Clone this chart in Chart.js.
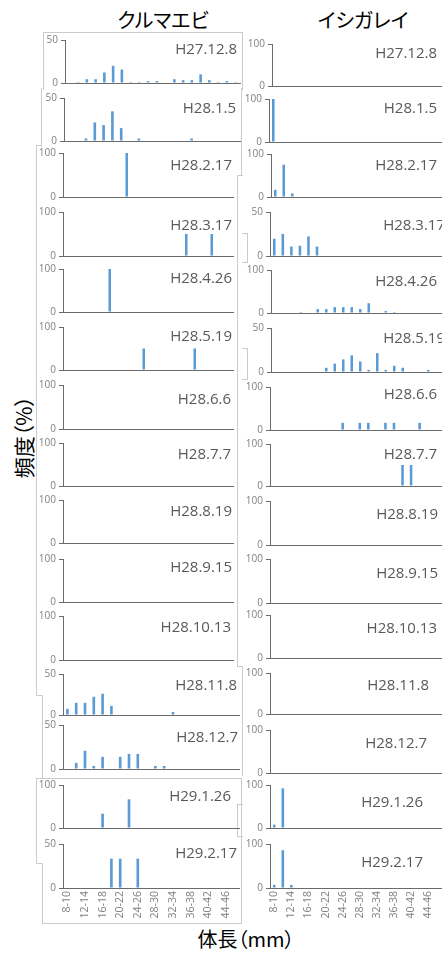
<!DOCTYPE html>
<html lang="ja">
<head>
<meta charset="utf-8">
<title>クルマエビ・イシガレイ 体長組成</title>
<script src="https://cdn.jsdelivr.net/npm/chart.js@4.4.1/dist/chart.umd.min.js"></script>
<style>
  html, body { margin: 0; padding: 0; background: #fff; }
  body { position: relative; width: 442px; height: 953px; overflow: hidden; font-family: "Noto Sans CJK JP", sans-serif; }
  canvas { position: absolute; }
  .line { position: absolute; background: #cbcbcb; }
  .txt { position: absolute; line-height: 1; white-space: nowrap; color: #000; font-feature-settings: "palt"; }
</style>
</head>
<body>
<div class="txt" style="left:163px; top:10px; font-size:20px; transform:translateX(-50%);">クルマエビ</div>
<div class="txt" style="left:363px; top:10px; font-size:20px; transform:translateX(-50%);">イシガレイ</div>
<div class="txt" style="left:23px; top:437px; font-size:21px; transform:translate(-50%,-50%) rotate(-90deg);">頻度（%）</div>
<div class="txt" style="left:246px; top:929px; font-size:20px; transform:translateX(-50%);">体長（mm）</div>
<script>
// size classes (mm), every other one is labelled on the bottom axis
const sizeClasses = ['8-10','10-12','12-14','14-16','16-18','18-20','20-22','22-24','24-26','26-28',
                     '28-30','30-32','32-34','34-36','36-38','38-40','40-42','42-44','44-46','46-48'];

const dates = ['H27.12.8','H28.1.5','H28.2.17','H28.3.17','H28.4.26','H28.5.19','H28.6.6','H28.7.7',
               'H28.8.19','H28.9.15','H28.10.13','H28.11.8','H28.12.7','H29.1.26','H29.2.17'];

// y axis top value per survey
const kurumaMax = [50,50,100,100,100,100,100,100,100,100,100,50,50,100,50];
const ishiMax   = [100,100,100,50,100,50,100,100,100,100,100,100,100,100,100];

// frequency (%) per size class, クルマエビ
const kuruma = [
  [0,1.1,4.4,4.4,12.2,20,15.6,1.1,1.1,2.2,2.2,0,4.4,3.3,3.3,10,3.3,1.1,2.2,1.1],
  [0,0,2.9,21.5,18.5,34.5,15,0,2.9,0,0,0,0,0,2.9,0,0,0,0,0],
  [0,0,0,0,0,0,0,100,0,0,0,0,0,0,0,0,0,0,0,0],
  [0,0,0,0,0,0,0,0,0,0,0,0,0,0,50,0,0,50,0,0],
  [0,0,0,0,0,100,0,0,0,0,0,0,0,0,0,0,0,0,0,0],
  [0,0,0,0,0,0,0,0,0,50,0,0,0,0,0,50,0,0,0,0],
  [0,0,0,0,0,0,0,0,0,0,0,0,0,0,0,0,0,0,0,0],
  [0,0,0,0,0,0,0,0,0,0,0,0,0,0,0,0,0,0,0,0],
  [0,0,0,0,0,0,0,0,0,0,0,0,0,0,0,0,0,0,0,0],
  [0,0,0,0,0,0,0,0,0,0,0,0,0,0,0,0,0,0,0,0],
  [0,0,0,0,0,0,0,0,0,0,0,0,0,0,0,0,0,0,0,0],
  [7.4,14.8,14.8,22.2,25.9,11.1,0,0,0,0,0,0,3.7,0,0,0,0,0,0,0],
  [0,6.9,20.7,3.4,13.8,0,13.8,17.2,17.2,0,3.4,3.4,0,0,0,0,0,0,0,0],
  [0,0,0,0,33.3,0,0,66.7,0,0,0,0,0,0,0,0,0,0,0,0],
  [0,0,0,0,0,33.3,33.3,0,33.3,0,0,0,0,0,0,0,0,0,0,0]
];

// frequency (%) per size class, イシガレイ
const ishigarei = [
  [0,0,0,0,0,0,0,0,0,0,0,0,0,0,0,0,0,0,0,0],
  [100,0,0,0,0,0,0,0,0,0,0,0,0,0,0,0,0,0,0,0],
  [16.7,75,8.3,0,0,0,0,0,0,0,0,0,0,0,0,0,0,0,0,0],
  [19.6,25,10.7,11.6,22.3,10.7,0,0,0,0,0,0,0,0,0,0,0,0,0,0],
  [0,0,0,2.3,0,9.1,9.1,13.6,13.6,13.6,9.1,22.7,0,4.5,2.3,0,0,0,0,0],
  [0,0,0,0,0,0,4.8,9.5,14.3,19,11.9,2.4,21.4,2.4,7.1,4.8,0,0,2.4,0],
  [0,0,0,0,0,0,0,0,16.7,0,16.7,16.7,0,16.7,16.7,0,0,16.7,0,0],
  [0,0,0,0,0,0,0,0,0,0,0,0,0,0,0,50,50,0,0,0],
  [0,0,0,0,0,0,0,0,0,0,0,0,0,0,0,0,0,0,0,0],
  [0,0,0,0,0,0,0,0,0,0,0,0,0,0,0,0,0,0,0,0],
  [0,0,0,0,0,0,0,0,0,0,0,0,0,0,0,0,0,0,0,0],
  [0,0,0,0,0,0,0,0,0,0,0,0,0,0,0,0,0,0,0,0],
  [0,0,0,0,0,0,0,0,0,0,0,0,0,0,0,0,0,0,0,0],
  [7.7,92.3,0,0,0,0,0,0,0,0,0,0,0,0,0,0,0,0,0,0],
  [7.1,85.7,7.1,0,0,0,0,0,0,0,0,0,0,0,0,0,0,0,0,0]
];

// panel placement: [axis x, top tick y, zero y, plot right, date right, date baseline]
const leftPos = [
  [65,39,84,240,237,54],[64,97,142,240,236,113],[63,152,198,233,232,170],[63,211,257,233,232,230],
  [63,268,313,233,232,283],[63,326,371,233,232,341],[63,384,430,233,231,404],[63,442,487,233,231,459],
  [63,499,544,233,232,516],[63,558,603,233,232,572],[63,615,661,233,231,632],[63,673,716,239,237,690],
  [63,724,770,239,238,742],[63,784,829,239,231,801],[63,843,888,239,237,858]
];
const rightPos = [
  [272,43,87,441,437,58],[269,98,143,441,437,113],[271,153,198,441,437,170],[270,211,257,441,445,230],
  [271,269,314,441,437,286],[271,327,373,441,445,343],[270,386,431,441,437,399],[270,443,487,441,437,459],
  [270,500,546,441,438,519],[270,558,604,441,438,578],[270,614,659,441,437,633],[270,672,715,441,429,690],
  [270,729,774,441,427,748],[270,784,829,441,423,807],[270,843,888,441,423,867]
];

// leftover frame edges of the pasted panels
const frameLines = [
  [43,32,242,32],[43,32,43,89],[242,32,242,89],
  [41,88,41,146],[241,88,241,175],
  [36,145,41,145],[36,145,36,695],
  [237,175,242,175],[237,175,237,666],[237,666,242,666],[242,666,242,775],
  [36,695,42,695],[42,695,42,778],
  [36,778,241,778],[36,778,36,863],[36,863,42,863],[42,863,42,923],[42,923,241,923],[241,778,241,923],
  [237,804,242,804],[237,804,237,836],[237,836,242,836],
  [242,233,247,233],[247,233,247,262],[242,262,247,262],
  [242,348,247,348],[247,348,247,379],[242,379,247,379]
];

frameLines.forEach(([x1, y1, x2, y2]) => {
  const d = document.createElement('div');
  d.className = 'line';
  d.style.left = x1 + 'px';
  d.style.top = y1 + 'px';
  d.style.width = (x2 - x1 + 1) + 'px';
  d.style.height = (y2 - y1 + 1) + 'px';
  document.body.appendChild(d);
});

// survey date in the upper right of each panel
const dateLabel = {
  id: 'dateLabel',
  afterDraw(chart, args, opts) {
    const ctx = chart.ctx;
    ctx.save();
    ctx.font = '15px "Open Sans"';
    ctx.fillStyle = '#595959';
    ctx.textAlign = 'right';
    ctx.textBaseline = 'alphabetic';
    ctx.fillText(opts.text, opts.x, opts.y);
    ctx.restore();
  }
};

const AXIS_W = 30, PAD_TOP = 8;
const tickFont = { family: '"Open Sans"', size: 10 };

function addPanel(pos, values, yMax, date, last) {
  const [ax, top, zero, right, tx, ty] = pos;
  const padR = Math.max(14, tx + 4 - right);
  const xH = last ? 40 : 8;
  const w = AXIS_W + (right - ax) + padR;
  const h = PAD_TOP + (zero - top) + xH;
  const left = ax - AXIS_W, y0 = top - PAD_TOP;

  const cv = document.createElement('canvas');
  cv.width = w; cv.height = h;
  cv.style.left = left + 'px';
  cv.style.top = y0 + 'px';
  cv.style.width = w + 'px';
  cv.style.height = h + 'px';
  document.body.appendChild(cv);

  new Chart(cv, {
    type: 'bar',
    data: {
      labels: sizeClasses,
      datasets: [{
        data: values,
        backgroundColor: '#5b9bd5',
        barPercentage: 0.3,
        categoryPercentage: 1.0
      }]
    },
    options: {
      responsive: false,
      animation: false,
      events: [],
      layout: { padding: { top: PAD_TOP, right: padR, left: 0, bottom: 0 } },
      plugins: {
        legend: { display: false },
        tooltip: { enabled: false },
        dateLabel: { text: date, x: tx - left, y: ty - y0 }
      },
      scales: {
        x: {
          grid: { display: true, drawOnChartArea: false, drawTicks: false },
          border: { display: true, color: '#6b6b6b' },
          ticks: {
            display: last,
            autoSkip: false,
            minRotation: 90,
            maxRotation: 90,
            padding: 3,
            color: '#808080',
            font: { family: '"Open Sans"', size: 10.5 },
            callback: function (v, i) { return i % 2 ? '' : this.getLabelForValue(v); }
          },
          afterFit: s => { s.height = xH; }
        },
        y: {
          min: 0,
          max: yMax,
          grid: { display: true, drawOnChartArea: false, drawTicks: true, tickLength: 4, color: '#6b6b6b' },
          border: { display: true, color: '#6b6b6b' },
          ticks: { stepSize: yMax, padding: 3, color: '#808080', font: tickFont },
          afterFit: s => { s.width = AXIS_W; }
        }
      }
    },
    plugins: [dateLabel]
  });
}

dates.forEach((d, i) => {
  const last = i === dates.length - 1;
  addPanel(leftPos[i], kuruma[i], kurumaMax[i], d, last);
  addPanel(rightPos[i], ishigarei[i], ishiMax[i], d, last);
});
</script>
</body>
</html>
